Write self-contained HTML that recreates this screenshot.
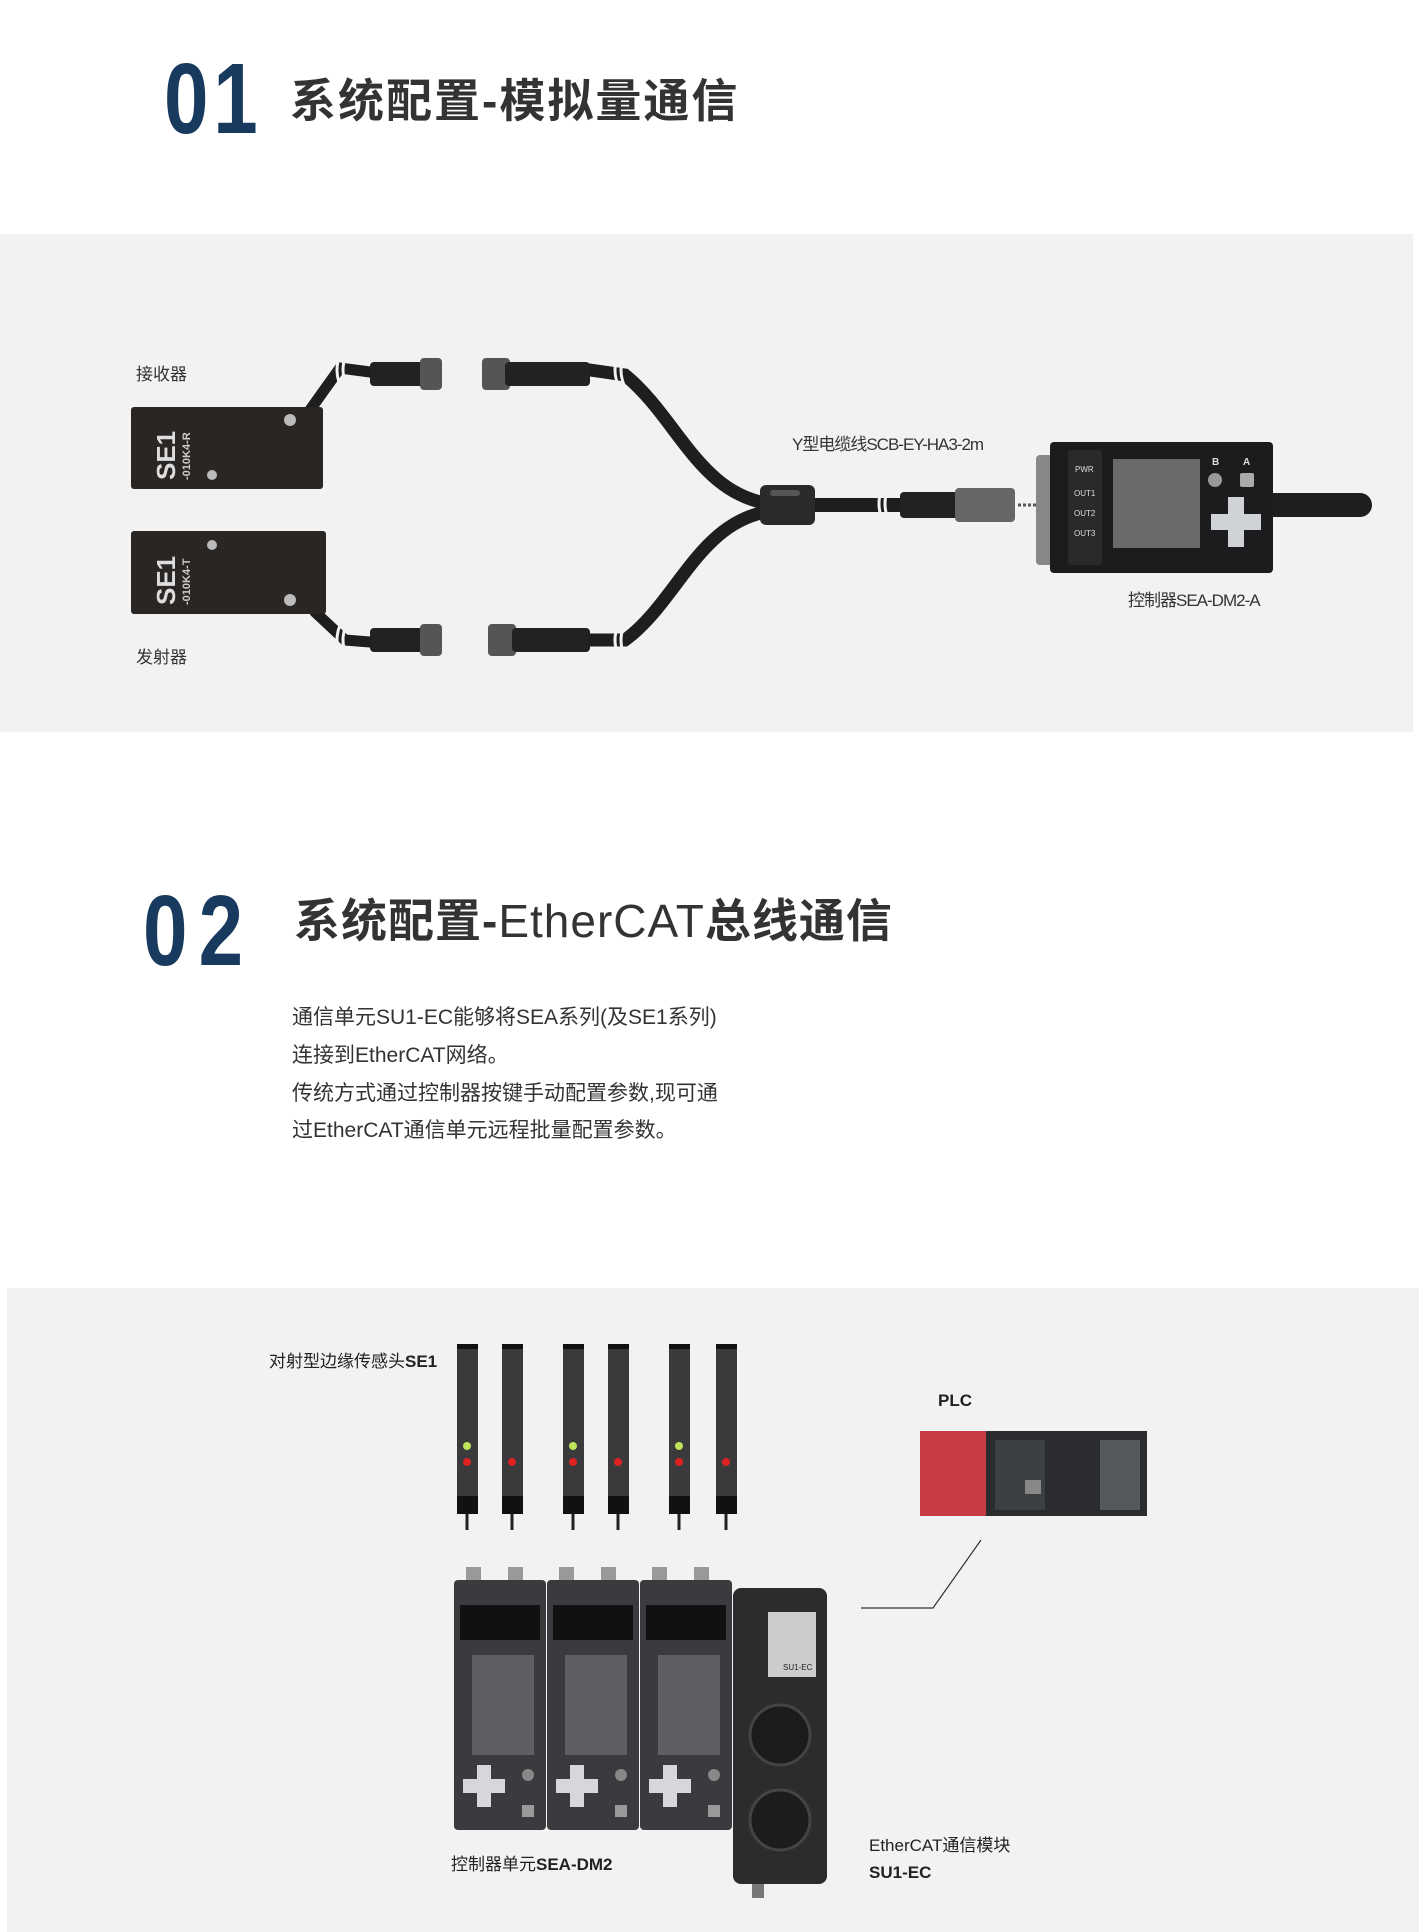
<!DOCTYPE html>
<html><head><meta charset="utf-8"><style>
body{margin:0;background:#fff;}
svg{display:block}
text{font-family:"Liberation Sans","Noto Sans CJK SC",sans-serif;}
</style></head><body>
<svg width="1424" height="1932" viewBox="0 0 1424 1932" xmlns="http://www.w3.org/2000/svg">
<rect width="1424" height="1932" fill="#fff"/>
<!-- Title 01 -->
<text x="164" y="133" font-size="100" font-weight="bold" fill="#173a5e" transform="translate(164,0) scale(0.8,1) translate(-164,0)" letter-spacing="6">01</text>
<text x="290" y="117" font-size="46" font-weight="bold" fill="#333" letter-spacing="2">系统配置-模拟量通信</text>
<!-- Panel 1 -->
<rect x="0" y="234" width="1413" height="498" fill="#f2f2f2"/>
<text x="136" y="380" font-size="17" fill="#333">接收器</text>
<text x="136" y="663" font-size="17" fill="#333">发射器</text>
<!-- cables -->
<g fill="none" stroke="#1e1e1e" stroke-linecap="round">
<path d="M310 410 L340 368 L370 372" stroke-width="11"/>
<path d="M315 612 L345 640 L370 642" stroke-width="11"/>
<path d="M590 370 L625 375 C680 420,700 500,780 505" stroke-width="13"/>
<path d="M590 640 L625 640 C680 600,700 515,780 510" stroke-width="13"/>
<path d="M800 505 L960 505" stroke-width="14"/>
<path d="M1270 505 L1360 505" stroke-width="24"/>
</g>
<!-- break marks -->
<g fill="none" stroke="#f2f2f2" stroke-width="3">
<path d="M340 355 q-6 15 0 30 M346 355 q-6 15 0 30"/>
<path d="M618 355 q-6 15 0 30 M624 355 q-6 15 0 30"/>
<path d="M340 625 q-6 15 0 30 M346 625 q-6 15 0 30"/>
<path d="M618 625 q-6 15 0 30 M624 625 q-6 15 0 30"/>
<path d="M882 488 q-6 15 0 32 M888 488 q-6 15 0 32"/>
</g>
<!-- Y splitter -->
<rect x="760" y="485" width="55" height="40" rx="6" fill="#2a2a2a"/>
<rect x="770" y="490" width="30" height="6" rx="3" fill="#555"/>
<!-- connectors -->
<g fill="#222">
<rect x="370" y="362" width="55" height="24" rx="4"/><rect x="420" y="358" width="22" height="32" rx="4" fill="#555"/>
<rect x="482" y="358" width="28" height="32" rx="4" fill="#555"/><rect x="505" y="362" width="85" height="24" rx="4"/>
<rect x="370" y="628" width="55" height="24" rx="4"/><rect x="420" y="624" width="22" height="32" rx="4" fill="#555"/>
<rect x="488" y="624" width="28" height="32" rx="4" fill="#555"/><rect x="512" y="628" width="78" height="24" rx="4"/>
<rect x="900" y="492" width="60" height="26" rx="4"/><rect x="955" y="488" width="60" height="34" rx="4" fill="#666"/>
</g>
<line x1="1018" y1="505" x2="1040" y2="505" stroke="#555" stroke-width="3" stroke-dasharray="3,2"/>
<!-- sensor boxes -->
<rect x="131" y="407" width="192" height="82" rx="3" fill="#2a2624"/>
<circle cx="290" cy="420" r="6" fill="#bbb"/><circle cx="212" cy="475" r="5" fill="#bbb"/>
<text transform="translate(175,480) rotate(-90)" font-size="26" font-weight="bold" fill="#ddd">SE1</text>
<text transform="translate(190,480) rotate(-90)" font-size="11" font-weight="bold" fill="#ccc">-010K4-R</text>
<rect x="131" y="531" width="195" height="83" rx="3" fill="#2a2624"/>
<circle cx="212" cy="545" r="5" fill="#bbb"/><circle cx="290" cy="600" r="6" fill="#bbb"/>
<text transform="translate(175,605) rotate(-90)" font-size="26" font-weight="bold" fill="#ddd">SE1</text>
<text transform="translate(190,605) rotate(-90)" font-size="11" font-weight="bold" fill="#ccc">-010K4-T</text>
<!-- controller -->
<rect x="1036" y="455" width="18" height="110" rx="4" fill="#888"/>
<rect x="1050" y="442" width="223" height="131" rx="4" fill="#1c1c1e"/>
<rect x="1068" y="450" width="34" height="115" rx="3" fill="#2a2a2c"/>
<text x="1075" y="472" font-size="8" fill="#ddd">PWR</text><text x="1074" y="496" font-size="8" fill="#ddd">OUT1</text><text x="1074" y="516" font-size="8" fill="#ddd">OUT2</text><text x="1074" y="536" font-size="8" fill="#ddd">OUT3</text>
<rect x="1113" y="459" width="87" height="89" fill="#6a6a6c"/>
<circle cx="1215" cy="480" r="7" fill="#999"/><rect x="1240" y="473" width="14" height="14" rx="2" fill="#aaa"/>
<text x="1212" y="465" font-size="10" font-weight="bold" fill="#ddd">B</text><text x="1243" y="465" font-size="10" font-weight="bold" fill="#ddd">A</text>
<path d="M1228 497h16v17h17v16h-17v17h-16v-17h-17v-16h17z" fill="#cfd2d6"/>
<text x="792" y="450" font-size="17" fill="#333" letter-spacing="-1">Y型电缆线SCB-EY-HA3-2m</text>
<text x="1128" y="606" font-size="17" fill="#333" letter-spacing="-1">控制器SEA-DM2-A</text>
<!-- Title 02 -->
<text x="143" y="965" font-size="100" font-weight="bold" fill="#173a5e" transform="translate(143,0) scale(0.8,1) translate(-143,0)" letter-spacing="14">02</text>
<text x="294" y="937" font-size="46" font-weight="bold" fill="#333" letter-spacing="1">系统配置-<tspan font-weight="normal">EtherCAT</tspan>总线通信</text>
<g font-size="21" fill="#333">
<text x="292" y="1024">通信单元SU1-EC能够将SEA系列(及SE1系列)</text>
<text x="292" y="1062">连接到EtherCAT网络。</text>
<text x="292" y="1100">传统方式通过控制器按键手动配置参数,现可通</text>
<text x="292" y="1137">过EtherCAT通信单元远程批量配置参数。</text>
</g>
<!-- Panel 2 -->
<rect x="7" y="1288" width="1412" height="644" fill="#f2f2f2"/>
<text x="269" y="1367" font-size="17" fill="#222">对射型边缘传感头<tspan font-weight="bold">SE1</tspan></text>
<g>
<g id="s"><rect x="457" y="1344" width="21" height="170" fill="#3a3a3c"/><rect x="457" y="1344" width="21" height="5" fill="#111"/><rect x="457" y="1496" width="21" height="18" fill="#111"/><line x1="467" y1="1514" x2="467" y2="1530" stroke="#222" stroke-width="3"/></g>
<use href="#s" x="45"/><use href="#s" x="106"/><use href="#s" x="151"/><use href="#s" x="212"/><use href="#s" x="259"/>
<g fill="#d22"><circle cx="467" cy="1462" r="4"/><circle cx="512" cy="1462" r="4"/><circle cx="573" cy="1462" r="4"/><circle cx="618" cy="1462" r="4"/><circle cx="679" cy="1462" r="4"/><circle cx="726" cy="1462" r="4"/></g>
<g fill="#bde25a"><circle cx="467" cy="1446" r="4"/><circle cx="573" cy="1446" r="4"/><circle cx="679" cy="1446" r="4"/></g>
</g>
<text x="938" y="1406" font-size="17" font-weight="bold" fill="#222">PLC</text>
<rect x="920" y="1431" width="227" height="85" fill="#2a2c30"/>
<rect x="920" y="1431" width="66" height="85" fill="#c83a44"/>
<rect x="995" y="1440" width="50" height="70" fill="#3c3f44"/><rect x="1025" y="1480" width="16" height="14" fill="#888"/>
<rect x="1100" y="1440" width="40" height="70" fill="#55585c"/>
<polyline points="981,1540 933,1608 861,1608" fill="none" stroke="#333" stroke-width="1.2"/>
<!-- controllers -->
<g id="c">
<rect x="466" y="1567" width="15" height="14" fill="#999"/><rect x="508" y="1567" width="15" height="14" fill="#999"/>
<rect x="454" y="1580" width="92" height="250" rx="4" fill="#3a3b3e"/>
<rect x="460" y="1605" width="80" height="35" fill="#111"/>
<rect x="472" y="1655" width="62" height="100" fill="#5e5f62"/>
<path d="M477 1765h14v14h14v14h-14v14h-14v-14h-14v-14h14z" fill="#d5d7da"/>
<circle cx="528" cy="1775" r="6" fill="#888"/><rect x="522" y="1805" width="12" height="12" fill="#999"/>
</g>
<use href="#c" x="93"/><use href="#c" x="186"/>
<rect x="733" y="1588" width="94" height="296" rx="8" fill="#2b2c2e"/>
<rect x="768" y="1612" width="48" height="65" fill="#ccc"/>
<text x="783" y="1670" font-size="8" fill="#222">SU1-EC</text>
<circle cx="780" cy="1735" r="30" fill="#1c1c1e" stroke="#444" stroke-width="3"/>
<circle cx="780" cy="1820" r="30" fill="#1c1c1e" stroke="#444" stroke-width="3"/>
<rect x="752" y="1884" width="12" height="14" fill="#777"/>
<text x="451" y="1870" font-size="17" fill="#222">控制器单元<tspan font-weight="bold">SEA-DM2</tspan></text>
<text x="869" y="1851" font-size="17" fill="#222">EtherCAT通信模块</text>
<text x="869" y="1878" font-size="17" font-weight="bold" fill="#222">SU1-EC</text>
</svg>
</body></html>
